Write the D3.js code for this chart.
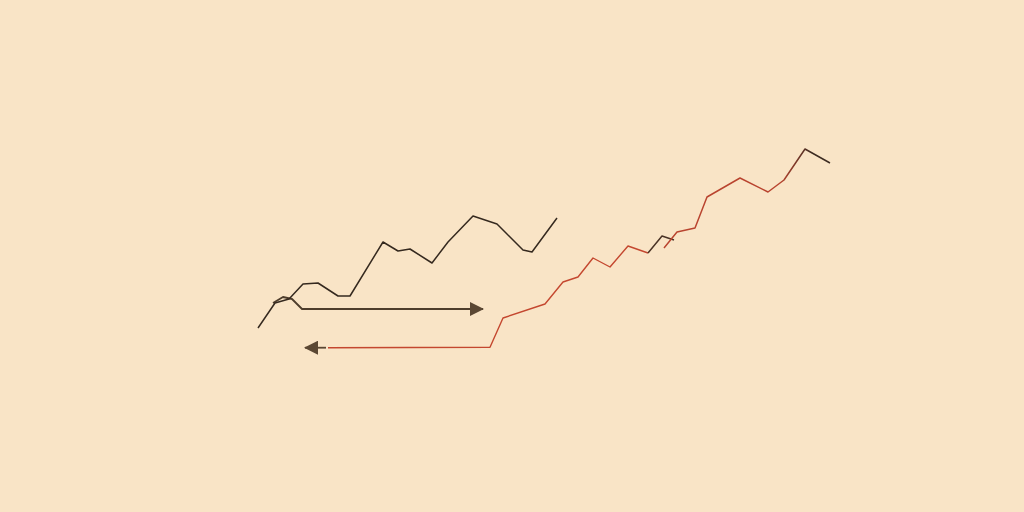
<!DOCTYPE html>
<html>
<head>
<meta charset="utf-8">
<script src="https://cdn.jsdelivr.net/npm/d3@7"></script>
<style>
  html, body { margin: 0; padding: 0; background: #f9e4c6; }
  svg { display: block; }
</style>
</head>
<body>
<script>
'use strict';

// upper dark line
const darkX = [258, 275, 289, 303, 318, 338, 350, 383, 398, 410, 432, 448, 473, 497, 523, 532, 557];
const darkY = [184, 209, 213, 228, 229, 216, 216, 270, 261, 263, 249, 270, 296, 288, 262, 260, 294];

// little bump that turns into the right pointing arrow
const arrowRightX = [273, 283, 292, 302, 483];
const arrowRightY = [209, 215, 213, 203, 203];

// left pointing arrow head stub
const arrowLeftX = [326, 305];
const arrowLeftY = [164.3, 164.3];

// red line, first part
const redX = [328, 490, 503, 545, 563, 578, 593, 610, 628, 648];
const redY = [164.3, 164.7, 194, 208, 230, 235, 254, 245, 266, 259];

// dark kink between the two red parts
const kinkX = [648, 662, 674];
const kinkY = [259, 276, 272];

// red line, second part (goes dark near the top)
const red2X = [664, 677, 695, 707, 740, 768, 784, 805, 830];
const red2Y = [264, 280, 284, 315, 334, 320, 332, 363, 349];

const width = 1024;
const height = 512;

const x = d3.scaleLinear().domain([0, 1024]).range([0, width]);
const y = d3.scaleLinear().domain([0, 512]).range([height, 0]);

const svg = d3.select('body').append('svg')
    .attr('width', width)
    .attr('height', height);

svg.append('rect')
    .attr('width', width).attr('height', height)
    .attr('fill', '#f9e4c6');

const defs = svg.append('defs');

// arrow head, tip sits on the path end
defs.append('marker')
    .attr('id', 'head')
    .attr('markerUnits', 'userSpaceOnUse')
    .attr('viewBox', '0 0 14 14')
    .attr('refX', 13).attr('refY', 7)
    .attr('markerWidth', 14).attr('markerHeight', 14)
    .attr('orient', 'auto')
    .append('path')
    .attr('d', 'M 0 0 L 14 7 L 0 14 Z')
    .attr('fill', '#5b4733');

const grad = defs.append('linearGradient')
    .attr('id', 'fade')
    .attr('gradientUnits', 'userSpaceOnUse')
    .attr('x1', x(780)).attr('x2', x(812))
    .attr('y1', 0).attr('y2', 0);
grad.append('stop').attr('offset', 0).attr('stop-color', '#b9442f');
grad.append('stop').attr('offset', 1).attr('stop-color', '#3d2c22');

const line = d3.line()
    .x((d) => x(d[0]))
    .y((d) => y(d[1]));

function drawLine(xs, ys, stroke, w, marker) {
    const path = svg.append('path')
        .datum(d3.zip(xs, ys))
        .attr('fill', 'none')
        .attr('stroke', stroke)
        .attr('stroke-width', w)
        .attr('stroke-linejoin', 'round')
        .attr('d', line);
    if (marker) path.attr('marker-end', 'url(#head)');
    return path;
}

drawLine(redX, redY, '#c4472f', 1.4);
drawLine(kinkX, kinkY, '#4a3326', 1.5);
drawLine(red2X, red2Y, 'url(#fade)', 1.5);
drawLine(arrowLeftX, arrowLeftY, '#5b4733', 1.8, true);
drawLine(arrowRightX, arrowRightY, '#4e3d2c', 1.8, true);
drawLine(darkX, darkY, '#35291f', 1.5);
</script>
</body>
</html>
